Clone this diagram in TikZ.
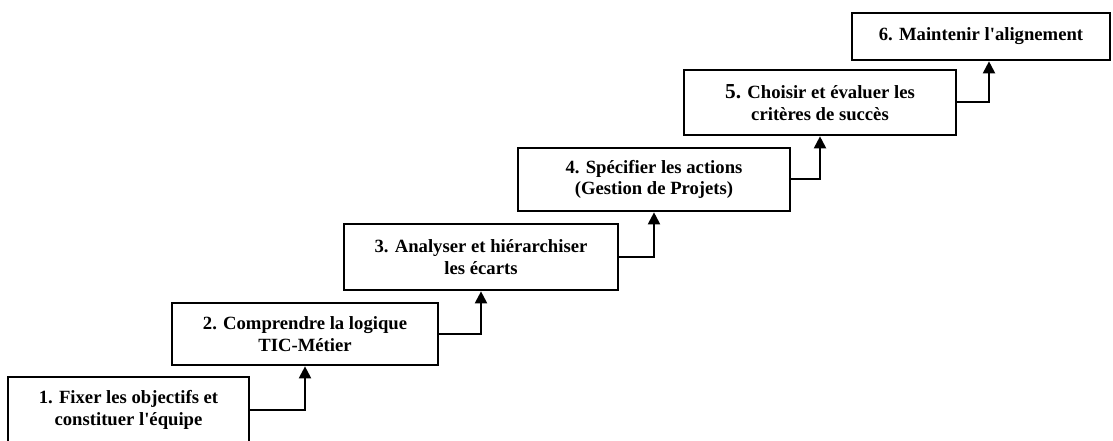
\documentclass[tikz,border=0pt]{standalone}
\usepackage{fontspec}
\setmainfont{Liberation Serif}
\usetikzlibrary{arrows.meta}

\begin{document}
\begin{tikzpicture}[x=0.75pt, y=-0.75pt,
        stepbox/.style={rectangle, draw, line width=2pt, align=center, inner sep=0pt, font=\bfseries\fontsize{14}{16}\selectfont},
        conn/.style={-{Triangle[length=9pt, width=9pt]}, line width=1.5pt}
    ]
        \useasboundingbox (0,0) rectangle (1113,441);

        % Nodes
        \node [stepbox, minimum width=180.75pt, minimum height=49.5pt] (fixer) at (128.5,410) {1. Fixer les objectifs et\\constituer l\textquotesingle équipe};
        \node [stepbox, minimum width=199.5pt, minimum height=46.5pt] (comprendre) at (305,334) {2. Comprendre la logique\\TIC-Métier};
        \node [stepbox, minimum width=205.5pt, minimum height=49.5pt] (analyser) at (481,257) {3. Analyser et hiérarchiser\\les écarts};
        \node [stepbox, minimum width=204pt, minimum height=47.25pt] (specifier) at (654,179.5) {4. Spécifier les actions\\(Gestion de Projets)};
        \node [stepbox, minimum width=204pt, minimum height=48.75pt] (choisir) at (820,102.5) {{\fontsize{16}{16}\selectfont 5.} Choisir et évaluer les\\critères de succès};
        \node [stepbox, minimum width=193.5pt, minimum height=35.25pt] (maintenir) at (981,36.5) {6. Maintenir l\textquotesingle alignement};

        % Arrows
        \draw [conn] (fixer.east) -| (comprendre.south);
        \draw [conn] (comprendre.east) -| (analyser.south);
        \draw [conn] (analyser.east) -| (specifier.south);
        \draw [conn] (specifier.east) -| (choisir.south);
        \draw [conn] (choisir.east) -| ([xshift=6pt]maintenir.south);
    \end{tikzpicture}
\end{document}
